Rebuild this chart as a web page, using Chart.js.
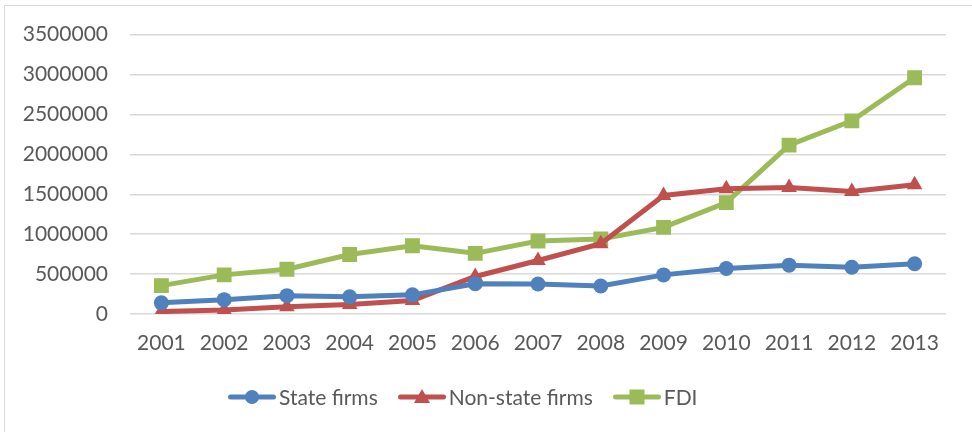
<!DOCTYPE html>
<html>
<head>
<meta charset="utf-8">
<script src="https://cdn.jsdelivr.net/npm/chart.js@4"></script>
<style>
	body {
		margin: 0;
		background: #ffffff;
		font-family: Lato, "Open Sans", sans-serif;
	}
	.wrap {
		position: relative;
		width: 972px;
		height: 432px;
		overflow: hidden;
	}
	.frame {
		position: absolute;
		left: 4px;
		top: 5px;
		right: 0;
		bottom: 0;
		border-top: 1.5px solid #d9d9d9;
		border-left: 1.5px solid #d9d9d9;
		pointer-events: none;
	}
	.chart-box {
		position: absolute;
		left: 0;
		top: 0;
		width: 972px;
		height: 432px;
	}
	.legend {
		position: absolute;
		left: 228px;
		top: 384px;
		display: flex;
		align-items: center;
		gap: 20px;
		font-size: 21px;
		color: #595959;
	}
	.legend-item {
		display: flex;
		align-items: center;
		gap: 3px;
	}
</style>
</head>
<body>
<div class="wrap">
	<div class="chart-box"><canvas id="growth-chart" width="972" height="432"></canvas></div>
	<div class="frame"></div>
	<div class="legend" id="legend"></div>
</div>
<script>
const years = ["2001", "2002", "2003", "2004", "2005", "2006", "2007", "2008", "2009", "2010", "2011", "2012", "2013"];
const stateFirms = [140000, 180000, 230000, 215000, 240000, 380000, 375000, 350000, 490000, 570000, 612000, 585000, 630000];
const nonStateFirms = [30000, 50000, 90000, 120000, 170000, 470000, 670000, 880000, 1485000, 1570000, 1585000, 1535000, 1620000];
const fdi = [355000, 490000, 560000, 745000, 855000, 760000, 915000, 940000, 1085000, 1395000, 2115000, 2420000, 2960000];
const yTicks = [0, 500000, 1000000, 1500000, 2000000, 2500000, 3000000, 3500000];

const seriesNames = ["State firms", "Non-state firms", "FDI"];
const seriesColors = ["#4f81bd", "#c0504d", "#9bbb59"];
const seriesMarkers = ["circle", "triangle", "rect"];
const markerSizes = [7.5, 9, 10.5];

document.addEventListener("DOMContentLoaded", () => {
	const ctx = document.getElementById("growth-chart").getContext("2d");
	const allSeries = [stateFirms, nonStateFirms, fdi];

	const datasets = allSeries.map((values, i) => ({
		label: seriesNames[i],
		data: values,
		borderColor: seriesColors[i],
		backgroundColor: seriesColors[i],
		borderWidth: 5,
		pointStyle: seriesMarkers[i],
		pointRadius: markerSizes[i],
		pointBorderWidth: 0,
		pointBackgroundColor: seriesColors[i],
		tension: 0,
		fill: false,
	}));

	new Chart(ctx, {
		type: "line",
		data: {
			labels: years,
			datasets: datasets,
		},
		options: {
			responsive: false,
			animation: false,
			layout: {
				padding: { top: 34, right: 26, bottom: 68, left: 0 },
			},
			plugins: {
				legend: { display: false },
				tooltip: { enabled: false },
			},
			scales: {
				x: {
					offset: true,
					grid: { display: false, drawTicks: false },
					border: { display: false },
					ticks: {
						color: "#595959",
						padding: 17,
						font: { family: "Lato, 'Open Sans', sans-serif", size: 21 },
					},
					afterFit: (scale) => {
						scale.height = 50;
					},
				},
				y: {
					min: 0,
					max: 3500000,
					afterBuildTicks: (scale) => {
						scale.ticks = yTicks.map((v) => ({ value: v }));
					},
					grid: { color: "#d9d9d9", lineWidth: 1.5, drawTicks: false },
					border: { display: false },
					ticks: {
						color: "#595959",
						padding: 22,
						font: { family: "Lato, 'Open Sans', sans-serif", size: 21 },
						callback: (value) => String(value),
					},
					afterFit: (scale) => {
						scale.width = 130;
					},
				},
			},
		},
	});

	// Legend: line sample with marker, then the series name
	const legend = document.getElementById("legend");
	seriesNames.forEach((name, i) => {
		const item = document.createElement("div");
		item.className = "legend-item";
		const color = seriesColors[i];
		let marker = "";
		if (seriesMarkers[i] === "circle") {
			marker = `<circle cx="24" cy="11" r="7" fill="${color}"/>`;
		} else if (seriesMarkers[i] === "triangle") {
			marker = `<polygon points="24,3 32,17 16,17" fill="${color}"/>`;
		} else {
			marker = `<rect x="16.5" y="3.5" width="15" height="15" fill="${color}"/>`;
		}
		item.innerHTML = `
			<svg width="48" height="22" viewBox="0 0 48 22">
				<line x1="2.5" y1="11" x2="45.5" y2="11" stroke="${color}" stroke-width="5" stroke-linecap="round"/>
				${marker}
			</svg>
			<span>${name}</span>`;
		legend.appendChild(item);
	});
});
</script>
</body>
</html>
